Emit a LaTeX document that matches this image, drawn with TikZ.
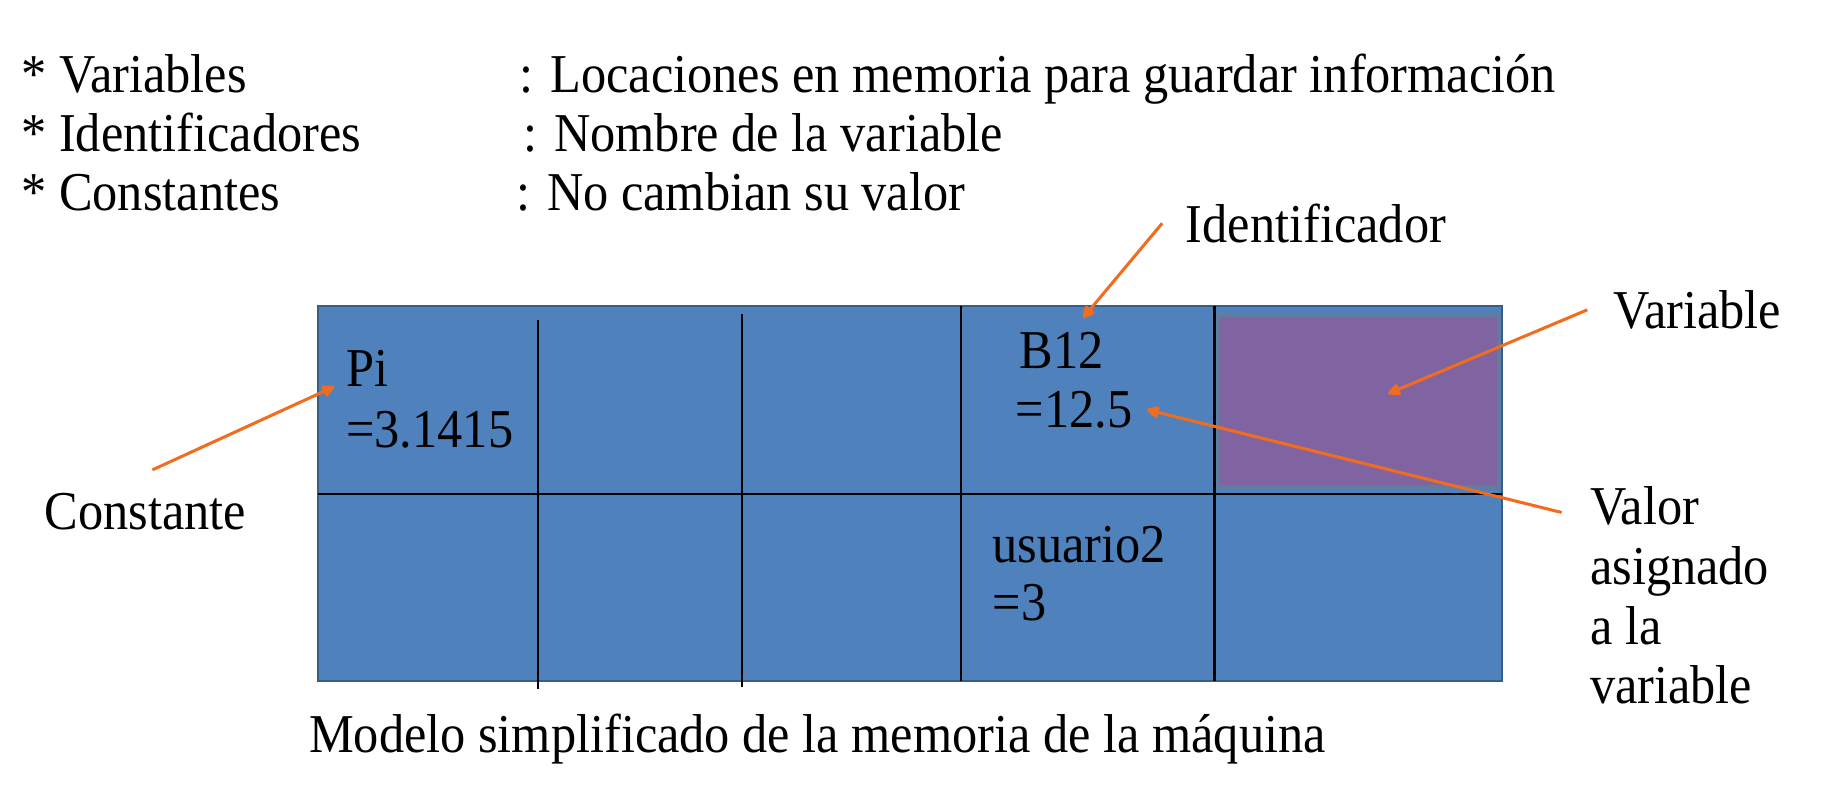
\documentclass[tikz,border=0pt]{standalone}
\usepackage{fontspec}
\setmainfont{Liberation Serif}[FakeStretch=0.92]
\usetikzlibrary{arrows.meta}

\def\memoria{(273,263) rectangle (1290,585)}
\def\celdavar{(1045,271) rectangle (1287,418)}
\definecolor{azul celda}{HTML}{4F81BD}
\definecolor{azul borde}{HTML}{385D8A}
\definecolor{morado}{HTML}{8064A2}
\definecolor{naranja}{HTML}{F26C1F}
\tikzset{celda/.style={fill=azul celda, draw=azul borde, line width=1pt},
    rejilla/.style={draw=black, line width=1pt},
    texto/.style={anchor=base west, inner sep=0pt,
        font=\fontsize{23.5pt}{25.5pt}\selectfont},
    flecha/.style={draw=naranja, line width=1.3pt,
        -{Triangle[length=6pt,width=5.5pt,round]}}}

\begin{document}
\begin{tikzpicture}[x=0.5pt, y=-0.5pt]
  \useasboundingbox (0,0) rectangle (1568,692.1);
  % definiciones
  \node[texto] (tvar) at (18,79) {* Variables};
  \node[texto] (dvar) at (446,79) {: Locaciones en memoria para guardar información};
  \node[texto] (tid) at (18,130) {* Identificadores};
  \node[texto] (did) at (449,130) {: Nombre de la variable};
  \node[texto] (tcon) at (18,181) {* Constantes};
  \node[texto] (dcon) at (443,181) {: No cambian su valor};
  % memoria
  \draw[celda] \memoria;
  \filldraw[fill=morado, draw=azul borde!80, line width=1.5pt] \celdavar;
  \draw[rejilla] (273,424) -- (1290,424);
  \draw[rejilla] (462,275) -- (462,592);
  \draw[rejilla] (637,270) -- (637,590);
  \draw[rejilla] (825,263) -- (825,585);
  \draw[rejilla] (1043,263) -- (1043,585);
  \node[texto] (pi) at (297,332) {Pi};
  \node[texto] (vpi) at (297,384) {=3.1415};
  \node[texto] (b12) at (875,316) {B12};
  \node[texto] (vb12) at (872,367) {=12.5};
  \node[texto] (usr) at (852,483) {usuario2};
  \node[texto] (vusr) at (852,533) {=3};
  \node[texto] (modelo) at (265,646) {Modelo simplificado de la memoria de la máquina};
  % etiquetas
  \node[texto] (constante) at (38,455) {Constante};
  \node[texto] (identificador) at (1018,208) {Identificador};
  \node[texto] (variable) at (1385,282) {Variable};
  \node[texto] (valor) at (1365,450) {Valor};
  \node[texto] (asignado) at (1365,502) {asignado};
  \node[texto] (ala) at (1365,553) {a la};
  \node[texto] (lavariable) at (1365,604) {variable};
  \coordinate (idtip) at (930,273);
  \coordinate (vartip) at (1192,338);
  \draw[flecha] ([xshift=3pt,yshift=10pt]constante.north) -- ([xshift=-5pt]pi.base west);
  \draw[flecha] ([xshift=-10pt]identificador.west) -- (idtip);
  \draw[flecha] ([xshift=-11pt]variable.west) -- (vartip);
  \draw[flecha] ([xshift=-12pt,yshift=-3pt]valor.west) -- ([xshift=6pt]vb12.east);
\end{tikzpicture}
\end{document}
